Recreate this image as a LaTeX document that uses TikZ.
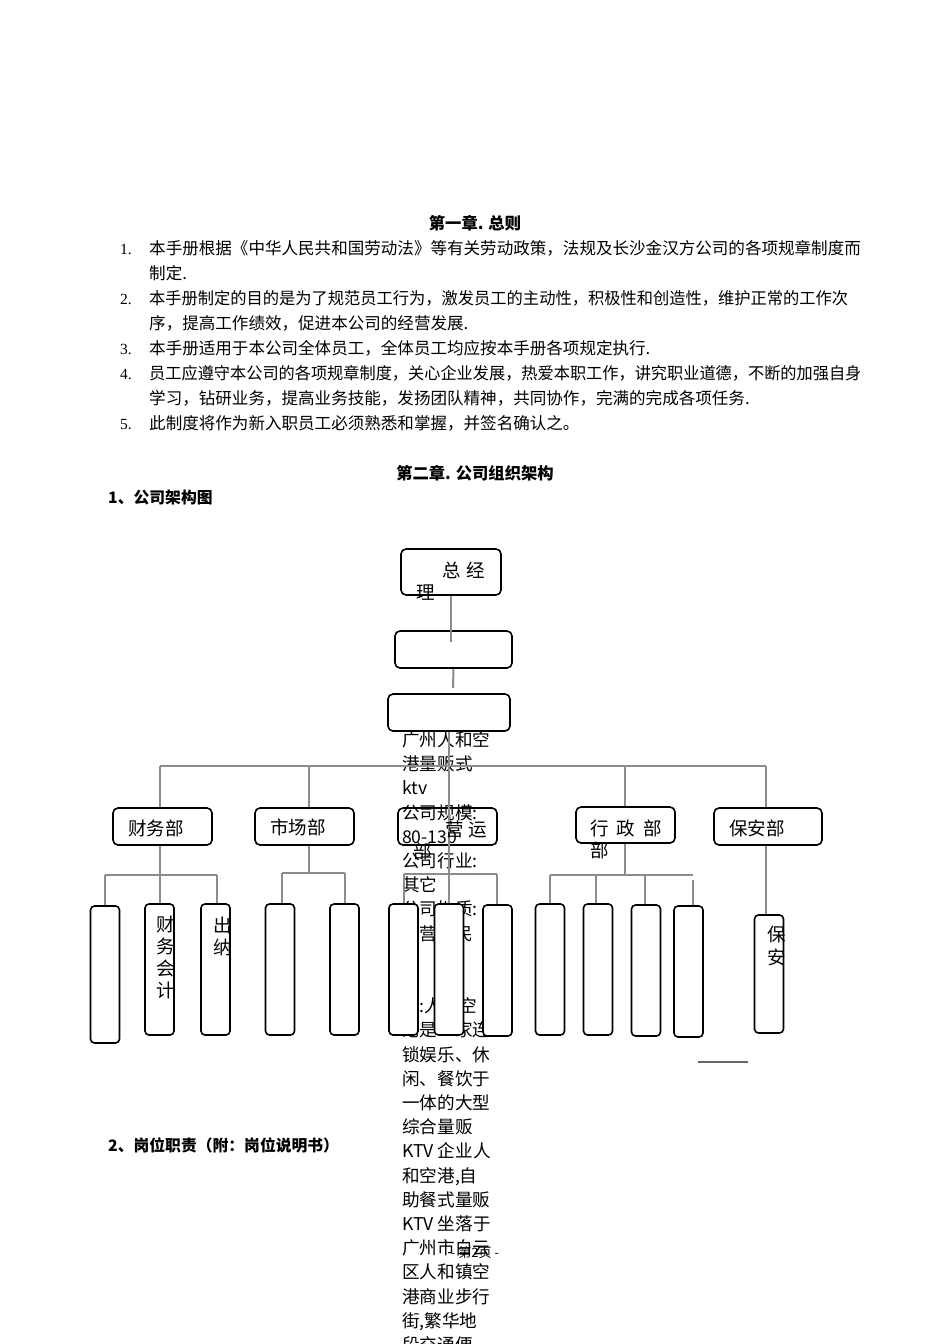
\documentclass[tikz,border=0pt]{standalone}
\usepackage{fontspec}
\setmainfont{Noto Sans CJK SC}
\newfontfamily\numfont{Liberation Serif}
\pgfdeclarelayer{behind}
\pgfsetlayers{behind,main}
\begin{document}
\begin{tikzpicture}[x=1pt,y=-1pt,
  conn/.style={draw=black!45, line width=2pt},
  boxbase/.style={draw=black, rounded corners=5pt, line width=1.6pt, inner sep=0pt},
  dept/.style={boxbase, fill=white, minimum width=99pt, minimum height=37pt},
  subbox/.style={draw=black, rounded corners=4pt, line width=1.6pt, fill=white, inner sep=0pt, minimum width=29pt, minimum height=131pt},
  lbl/.style={inner sep=0pt, font=\fontsize{18.5}{18.5}\selectfont},
  hd/.style={inner sep=0pt, anchor=base west, font=\fontsize{16.55}{16.55}\selectfont},
  hdnum/.style={inner sep=0pt, anchor=base west, font=\numfont\fontsize{15.5}{15.5}\selectfont},
  ttl/.style={inner sep=0pt, anchor=base, font=\bfseries\fontsize{16.3}{16.3}\selectfont},
  sect/.style={inner sep=0pt, anchor=base west, font=\bfseries\fontsize{15.8}{15.8}\selectfont},
  ovf/.style={inner sep=0pt, anchor=base west, font=\fontsize{17.6}{17.6}\selectfont}
]
\useasboundingbox (0,0) rectangle (950,1344);

% ---------- header text ----------
\node[ttl] (t1) at (475,229) {第一章. 总则};
\node[hdnum] (n1) at (120,254) {1.};
\node[hd] (l1a) at (149,254) {本手册根据《中华人民共和国劳动法》等有关劳动政策，法规及长沙金汉方公司的各项规章制度而};
\node[hd] (l1b) at (149,279) {制定.};
\node[hdnum] (n2) at (120,304) {2.};
\node[hd] (l2a) at (149,304) {\scalebox{0.982}[1]{本手册制定的目的是为了规范员工行为，激发员工的主动性，积极性和创造性，维护正常的工作次}};
\node[hd] (l2b) at (149,329) {序，提高工作绩效，促进本公司的经营发展.};
\node[hdnum] (n3) at (120,354) {3.};
\node[hd] (l3a) at (149,354) {本手册适用于本公司全体员工，全体员工均应按本手册各项规定执行.};
\node[hdnum] (n4) at (120,379) {4.};
\node[hd] (l4a) at (149,379) {\scalebox{0.978}[1]{员工应遵守本公司的各项规章制度，关心企业发展，热爱本职工作，讲究职业道德，不断的加强自身}};
\node[hd] (l4b) at (149,404) {学习，钻研业务，提高业务技能，发扬团队精神，共同协作，完满的完成各项任务.};
\node[hdnum] (n5) at (120,429) {5.};
\node[hd] (l5a) at (149,429) {此制度将作为新入职员工必须熟悉和掌握，并签名确认之。};

\node[ttl] (t2) at (475,479) {第二章. 公司组织架构};
\node[sect] (s1) at (108,503) {1、公司架构图};
\node[sect] (s2) at (108,1151) {2、岗位职责（附：岗位说明书）};

% ---------- boxes ----------
\node[boxbase, fill=white, minimum width=100pt, minimum height=46pt] (gm) at (451,572) {};
\node[boxbase, fill=white, minimum width=117pt, minimum height=37pt] (b2) at (453.5,649.5) {};
\node[boxbase, fill=white, minimum width=122pt, minimum height=37pt] (b3) at (449,712.5) {};

\node[dept] (fin) at (162.5,826.5) {};
\node[dept] (mkt) at (304.5,826.5) {};
\node[boxbase, minimum width=99pt, minimum height=37pt] (ops) at (447.5,826.5) {};
\node[dept, minimum height=36pt] (adm) at (625.5,825) {};
\node[dept, minimum width=108pt] (sec) at (768,826.5) {};

\node[subbox, minimum height=137pt] (a1) at (105,974.5) {};
\node[subbox] (a2) at (159.5,969.5) {};
\node[subbox] (a3) at (215.5,969.5) {};
\node[subbox] (m1) at (280,969.5) {};
\node[subbox] (m2) at (344.5,969.5) {};
\node[subbox] (c1) at (403.5,969.5) {};
\node[subbox] (c2) at (449,969.5) {};
\node[subbox] (c3) at (497.5,970.5) {};
\node[subbox] (d1) at (550,969.5) {};
\node[subbox] (d2) at (598,969.5) {};
\node[subbox] (d3) at (646,970.5) {};
\node[subbox] (d4) at (688.5,971.5) {};
\node[subbox, minimum height=118pt] (e1) at (769,974) {};

% ---------- connectors ----------
\coordinate (gmEnd) at (451,642);
\coordinate (b2End) at (453,688);
\draw[conn] (gm.south) -- (gmEnd);
\draw[conn] (b2.south) -- (b2End);
\draw[conn] (b3.south) -- (c2.north);

\coordinate (busL) at (160,766);
\coordinate (busM) at (309,766);
\coordinate (busA) at (625,766);
\coordinate (busR) at (766,766);
\draw[conn] (busL) -- (busR);
\draw[conn] (busL) -- (busL |- fin.north);
\draw[conn] (busM) -- (busM |- mkt.north);
\draw[conn] (busA) -- (busA |- adm.north);
\draw[conn] (busR) -- (busR |- sec.north);

% finance
\coordinate (fj) at (160,875);
\coordinate (fL) at (105,875);
\coordinate (fR) at (217,875);
\draw[conn] (fj |- fin.south) -- (fj |- a2.north);
\draw[conn] (fL) -- (fR);
\draw[conn] (fL) -- (a1.north);
\draw[conn] (fR) -- (fR |- a3.north);
% market
\coordinate (mj) at (309,873);
\coordinate (mL) at (282,873);
\coordinate (mR) at (345,873);
\draw[conn] (mj |- mkt.south) -- (mj);
\draw[conn] (mL) -- (mR);
\draw[conn] (mL) -- (mL |- m1.north);
\draw[conn] (mR) -- (mR |- m2.north);
% operations
\coordinate (oL) at (404,874);
\coordinate (oR) at (497,874);
\draw[conn] (oL) -- (oR);
\draw[conn] (oL) -- (oL |- c1.north);
\draw[conn] (oR) -- (oR |- c3.north);
% admin
\coordinate (aj) at (625,875);
\coordinate (aL) at (550,875);
\coordinate (a2x) at (596,875);
\coordinate (a3x) at (645,875);
\coordinate (aR) at (693,875);
\coordinate (aR2) at (693,880);
\draw[conn] (aj |- adm.south) -- (aj);
\draw[conn] (aL) -- (aR);
\draw[conn] (aL) -- (aL |- d1.north);
\draw[conn] (a2x) -- (a2x |- d2.north);
\draw[conn] (a3x) -- (a3x |- d3.north);
\draw[conn] (aR2) -- (aR2 |- d4.north);
% security
\coordinate (sj) at (766,845);
\draw[conn] (sj |- sec.south) -- (sj |- e1.north);

% stray short line
\coordinate (sl1) at (698,1062);
\coordinate (sl2) at (748,1062);
\draw[draw=black!60, line width=2pt] (sl1) -- (sl2);

% ---------- labels ----------
\node[lbl] (gmT1) at (464,570) {总\hspace{6pt}经};
\node[lbl] (gmT2) at (426,593) {理};
\node[lbl] (finT) at (156,828) {财务部};
\node[lbl] (mktT) at (298,827) {市场部};
\node[lbl] (opsT1) at (466,829) {营\hspace{4pt}运};
\node[lbl] (opsT2) at (423,851) {部};
\node[lbl] (admT1) at (626,828) {行\hspace{8pt}政\hspace{8pt}部};
\node[lbl] (admT2) at (600,850) {部};
\node[lbl] (secT) at (757,828) {保安部};
\node[lbl, align=center, font=\fontsize{18.5}{22}\selectfont] (a2T) at (166,957) {财\\务\\会\\计};
\node[lbl, align=center, font=\fontsize{18.5}{22}\selectfont] (a3T) at (223,936) {出\\纳};
\node[lbl, align=center, font=\fontsize{18.5}{23}\selectfont] (e1T) at (777,946) {保\\安};
\node[inner sep=0pt, font=\fontsize{13}{13}\selectfont] (pg) at (475,1253) {- 第2页 -};

% ---------- overflowing text column (behind the sub boxes) ----------
\begin{pgfonlayer}{behind}
\foreach \i/\t in {0/广州人和空, 1/港量贩式, 2/ktv, 3/公司规模:, 4/80-130, 5/公司行业:, 6/其它, 7/公司性质:, 8/民营，民, 11/介:人和空, 12/港是一家连, 13/锁娱乐、休, 14/闲、餐饮于, 15/一体的大型, 16/综合量贩, 17/KTV 企业人, 18/{和空港,自}, 19/助餐式量贩, 20/KTV 坐落于, 21/广州市白云, 22/区人和镇空, 23/港商业步行, 24/{街,繁华地}, 25/段交通便}
  \node[ovf] (ov\i) at (402,{746.5+24.2*\i}) {\t};
\end{pgfonlayer}
\end{tikzpicture}
\end{document}
